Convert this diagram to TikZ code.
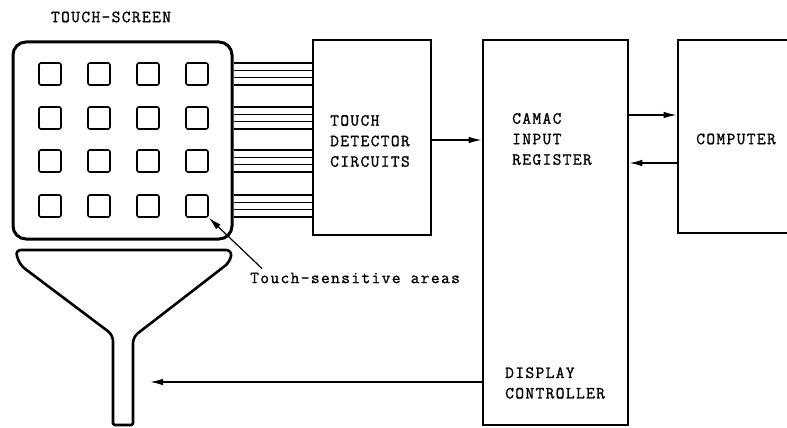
\documentclass[tikz,border=0pt]{standalone}
\usepackage{fontspec}
\setmonofont{Latin Modern Mono}[LetterSpace=8,FakeBold=1.2]
\usetikzlibrary{arrows.meta,positioning,calc}
\tikzset{>={Latex[length=13pt,width=6.5pt]},every node/.style={font=\ttfamily\fontsize{17}{20.5}\selectfont},
 box/.style={draw,line width=2.6pt,inner sep=0pt},pad/.style={draw,line width=1.6pt,
 rounded corners=2pt,minimum size=22pt,inner sep=0pt},wire/.style={line width=1.1pt},
 link/.style={line width=1.4pt,->},txt/.style={align=left,anchor=west,inner sep=0pt}}
\begin{document}
\begin{tikzpicture}[x=1pt,y=-1pt]
\useasboundingbox (0,0) rectangle (787,428);
\clip (0,0) rectangle (787,428);
\node[inner sep=0pt] (title) at (111,17) {TOUCH-SCREEN};
\node[box,line width=3pt,rounded corners=13pt,minimum width=219pt,minimum height=197pt] (screen) at (122.5,140.5) {};
\foreach \r/\y in {1/74,2/118,3/161,4/206}
 \foreach \c/\x in {1/50,2/99,3/148,4/197}
  \node[pad] (p\r\c) at (\x,\y) {};
\node[box,minimum width=118pt,minimum height=195pt] (det) at (372,137.5) {};
\node[txt] (dettxt) at (330,141) {TOUCH\\DETECTOR\\CIRCUITS};
\node[box,minimum width=145pt,minimum height=385pt] (camac) at (555.5,232.5) {};
\node[txt] (camtxt) at (512,139) {CAMAC\\INPUT\\REGISTER};
\node[txt] (distxt) at (505,383) {DISPLAY\\CONTROLLER};
\node[box,minimum width=150pt,minimum height=193pt] (comp) at (753,136.5) {};
\node[inner sep=0pt] (comptxt) at (736,139) {COMPUTER};
% wire bundles
\foreach \y in {74,118,161,206}
 \foreach \d in {-11,-3.7,3.7,11}
  \draw[wire] (screen.east |- 0,{\y+\d}) -- (det.west |- 0,{\y+\d});
\coordinate (a1) at (0,140);
\draw[link] (det.east |- a1) -- (camac.west |- a1);
\coordinate (a2) at (0,115);
\coordinate (a3) at (0,163);
\draw[link] (camac.east |- a2) -- (comp.west |- a2);
\draw[link] (comp.west |- a3) -- (camac.east |- a3);
% funnel
\draw[line width=2.6pt,line join=round] (123,250) [rounded corners=6pt] -- (232,250) -- (230,262)
 -- (133,337) [rounded corners=1.5pt] -- (133,425) -- (113,425) [rounded corners=6pt] -- (113,335)
 -- (20,265) -- (15,250) [sharp corners] -- cycle;
\coordinate (stem) at (150,382);
\draw[link] (camac.west |- stem) -- (stem);
\node[txt] (areas) at (250,278) {Touch-sensitive areas};
\draw[link,line width=1.2pt] ($(areas.north west)+(12,-4)$) -- (p44.south east);
\end{tikzpicture}
\end{document}
